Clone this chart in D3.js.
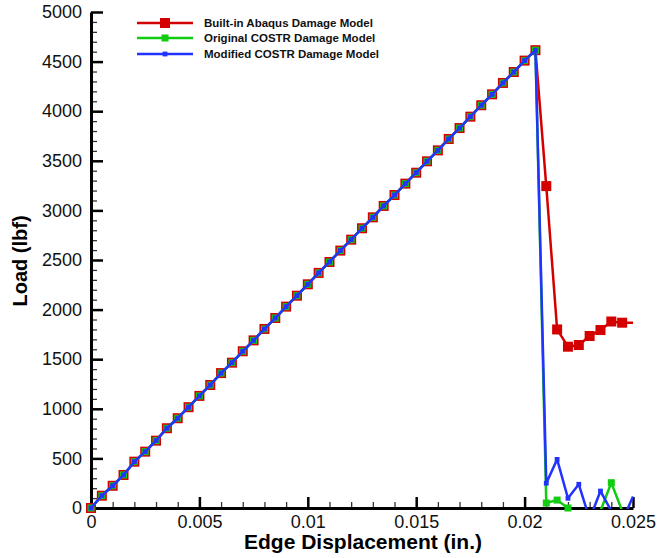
<!DOCTYPE html>
<html>
<head>
<meta charset="utf-8">
<script src="https://cdn.jsdelivr.net/npm/d3@7/dist/d3.min.js"></script>
<style>
  html, body { margin: 0; padding: 0; background: #fff; }
  svg { display: block; font-family: "Liberation Sans", Arial, Helvetica, sans-serif; }
</style>
</head>
<body>
<svg id="chart" width="658" height="558"></svg>
<script>
// ---------------- data ----------------
const seriesNames = ["Built-in Abaqus Damage Model", "Original COSTR Damage Model", "Modified COSTR Damage Model"];
const seriesColors = ["#d40000", "#11cc11", "#2233ff"];

// shared elastic (linear) portion, displacement in inches
const linearDisp = [0, 0.0005, 0.001, 0.0015, 0.002, 0.0025, 0.003, 0.0035, 0.004, 0.0045,
  0.005, 0.0055, 0.006, 0.0065, 0.007, 0.0075, 0.008, 0.0085, 0.009, 0.0095,
  0.010, 0.0105, 0.011, 0.0115, 0.012, 0.0125, 0.013, 0.0135, 0.014, 0.0145,
  0.015, 0.0155, 0.016, 0.0165, 0.017, 0.0175, 0.018, 0.0185, 0.019, 0.0195,
  0.020, 0.0205];
const linearLoad = [0, 124, 224, 333, 467, 568, 679, 804, 905, 1016,
  1130, 1240, 1360, 1465, 1580, 1690, 1805, 1915, 2030, 2140,
  2255, 2370, 2480, 2595, 2705, 2820, 2930, 3045, 3155, 3270,
  3380, 3495, 3605, 3720, 3830, 3945, 4060, 4170, 4285, 4395,
  4510, 4615];

// post-peak portions
const postDisp = [0.021, 0.0215, 0.022, 0.0225, 0.023, 0.0235, 0.024, 0.0245, 0.025];
const abaqusPost   = [3245, 1800, 1626, 1643, 1734, 1794, 1880, 1868, 1868];
const originalPost = [50, 80, 0, -150, -150, -28, 255, -30, -40];
const modifiedPost = [250, 490, 98, 239, -112, 171, -30, -135, 115];

const xTickValues = [0, 0.005, 0.01, 0.015, 0.02, 0.025];
const xTickLabels = ["0", "0.005", "0.01", "0.015", "0.02", "0.025"];
const yTickValues = [0, 500, 1000, 1500, 2000, 2500, 3000, 3500, 4000, 4500, 5000];
const yTickLabels = ["0", "500", "1000", "1500", "2000", "2500", "3000", "3500", "4000", "4500", "5000"];

const xLabel = "Edge Displacement (in.)";
const yLabel = "Load (lbf)";

// ---------------- build ----------------
const posts = [abaqusPost, originalPost, modifiedPost];
const series = posts.map((p, i) => ({
  name: seriesNames[i],
  color: seriesColors[i],
  values: linearDisp.map((d, j) => [d, linearLoad[j]])
    .concat(postDisp.map((d, j) => [d, p[j]]))
}));
const markerSizes = [10, 7, 4.8];

const svg = d3.select("#chart");
const mLeft = 91, mRight = 633, mTop = 12, mBottom = 508;

const x = d3.scaleLinear().domain([0, 0.025]).range([mLeft, mRight]);
const y = d3.scaleLinear().domain([0, 5000]).range([mBottom, mTop]);

svg.append("defs").append("clipPath").attr("id", "plotclip")
  .append("rect").attr("x", mLeft - 10).attr("y", mTop - 10)
  .attr("width", mRight - mLeft + 12).attr("height", mBottom - mTop + 11);

// minor ticks
const xMinor = d3.range(0, 26).map(i => i * 0.001).filter(v => !xTickValues.some(t => Math.abs(t - v) < 1e-9));
const yMinor = d3.range(0, 51).map(i => i * 100).filter(v => v % 500 !== 0);

svg.append("g").attr("transform", `translate(0,${mBottom})`)
  .call(d3.axisBottom(x).tickValues(xMinor).tickSizeInner(-6).tickSizeOuter(0).tickFormat(""))
  .call(g => g.select(".domain").remove())
  .call(g => g.selectAll("line").attr("stroke", "#333").attr("stroke-width", 1.3));
svg.append("g").attr("transform", `translate(${mLeft},0)`)
  .call(d3.axisLeft(y).tickValues(yMinor).tickSizeInner(-6).tickSizeOuter(0).tickFormat(""))
  .call(g => g.select(".domain").remove())
  .call(g => g.selectAll("line").attr("stroke", "#333").attr("stroke-width", 1.3));

// major axes
const xAxis = svg.append("g").attr("transform", `translate(0,${mBottom})`)
  .call(d3.axisBottom(x).tickValues(xTickValues).tickSizeInner(-11).tickSizeOuter(0)
    .tickPadding(7).tickFormat((d, i) => xTickLabels[i]));
const yAxis = svg.append("g").attr("transform", `translate(${mLeft},0)`)
  .call(d3.axisLeft(y).tickValues(yTickValues).tickSizeInner(-12).tickSizeOuter(0)
    .tickPadding(9).tickFormat((d, i) => yTickLabels[i]));
[xAxis, yAxis].forEach(g => {
  g.select(".domain").attr("stroke", "#000").attr("stroke-width", 3);
  g.selectAll(".tick line").attr("stroke", "#000").attr("stroke-width", 2.5);
  g.selectAll(".tick text").attr("fill", "#111").style("font-size", "18px")
    .style("font-family", "'Liberation Sans', Arial, sans-serif");
});

// series (each line followed by its markers)
const line = d3.line().x(d => x(d[0])).y(d => y(d[1]));
const plot = svg.append("g");
series.forEach((s, i) => {
  plot.append("path").datum(s.values)
    .attr("clip-path", "url(#plotclip)")
    .attr("fill", "none").attr("stroke", s.color).attr("stroke-width", 2.5)
    .attr("stroke-linejoin", "round").attr("d", line);
  const m = markerSizes[i];
  plot.append("g").selectAll("rect")
    .data(s.values.filter(d => d[1] >= 0 && d[0] < 0.025 - 1e-9))
    .join("rect")
    .attr("x", d => x(d[0]) - m / 2).attr("y", d => y(d[1]) - m / 2)
    .attr("width", m).attr("height", m)
    .attr("fill", s.color);
});

// axis titles
svg.append("text").attr("x", 363).attr("y", 549).attr("text-anchor", "middle")
  .style("font-size", "21px").style("font-weight", "bold").attr("fill", "#000").text(xLabel);
svg.append("text").attr("transform", "translate(27,261) rotate(-90)").attr("text-anchor", "middle")
  .style("font-size", "20px").style("font-weight", "bold").attr("fill", "#000").text(yLabel);

// legend
const legend = svg.append("g");
const legendY = [23, 38, 54];
series.forEach((s, i) => {
  const g = legend.append("g").attr("transform", `translate(0,${legendY[i]})`);
  g.append("line").attr("x1", 137).attr("x2", 193).attr("y1", 0).attr("y2", 0)
    .attr("stroke", s.color).attr("stroke-width", 2.5);
  const m = markerSizes[i];
  g.append("rect").attr("x", 165 - m / 2).attr("y", -m / 2).attr("width", m).attr("height", m)
    .attr("fill", s.color);
  g.append("text").attr("x", 204).attr("y", 4).style("font-size", "11.5px")
    .style("font-weight", "bold").attr("fill", "#111").text(s.name);
});
</script>
</body>
</html>
